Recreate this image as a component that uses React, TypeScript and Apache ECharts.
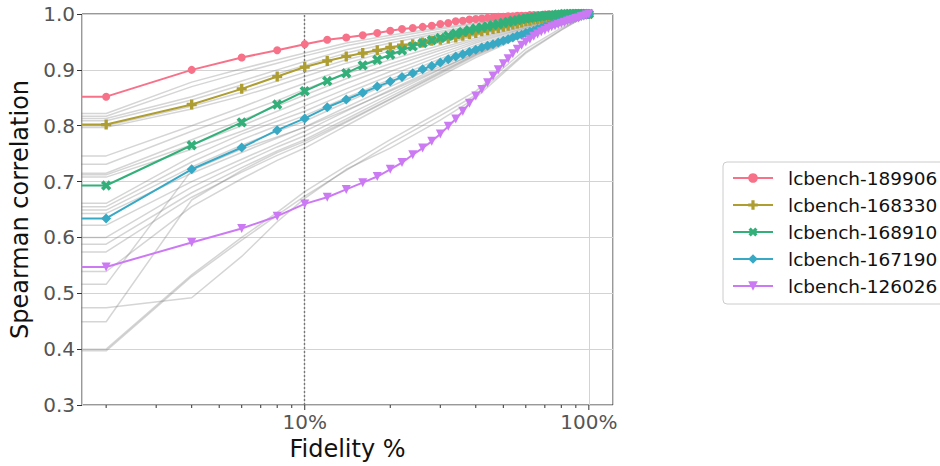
import React, { useEffect, useRef } from "react";
import * as echarts from "echarts";

// Fidelity (% of epochs) at which each correlation is computed.
// The 1% entry lies left of the visible range and carries the first value.
const FIDELITY = [
  1, 2, 4, 6, 8, 10, 12, 14, 16, 18, 20, 22, 24, 26, 28, 30, 32, 34, 36, 38, 40,
  42, 44, 46, 48, 50, 52, 54, 56, 58, 60, 62, 64, 66, 68, 70, 72, 74, 76, 78, 80,
  82, 84, 86, 88, 90, 92, 94, 96, 98, 100,
];

const LCB_189906 = [
  0.852,
  0.852, 0.9, 0.922, 0.935, 0.946, 0.954, 0.958, 0.962, 0.966, 0.97,
  0.973, 0.975, 0.977, 0.979, 0.982, 0.984, 0.987, 0.988, 0.99, 0.991,
  0.992, 0.993, 0.994, 0.995, 0.995, 0.996, 0.996, 0.997, 0.997, 0.997,
  0.998, 0.998, 0.998, 0.998, 0.999, 0.999, 0.999, 0.999, 0.999, 0.999,
  0.999, 1.0, 1.0, 1.0, 1.0, 1.0, 1.0, 1.0, 1.0, 1.0,
];
const LCB_168330 = [
  0.802,
  0.802, 0.838, 0.866, 0.888, 0.905, 0.916, 0.924, 0.93, 0.935, 0.94,
  0.944, 0.946, 0.949, 0.952, 0.954, 0.956, 0.958, 0.961, 0.964, 0.966,
  0.969, 0.971, 0.973, 0.975, 0.977, 0.979, 0.981, 0.983, 0.985, 0.987,
  0.988, 0.99, 0.991, 0.992, 0.993, 0.994, 0.995, 0.996, 0.997, 0.997,
  0.998, 0.998, 0.999, 0.999, 1.0, 1.0, 1.0, 1.0, 1.0, 1.0,
];
const LCB_168910 = [
  0.693,
  0.693, 0.765, 0.806, 0.838, 0.862, 0.88, 0.894, 0.908, 0.918, 0.927,
  0.935, 0.942, 0.948, 0.953, 0.957, 0.961, 0.965, 0.968, 0.971, 0.974,
  0.976, 0.978, 0.98, 0.982, 0.984, 0.986, 0.988, 0.989, 0.991, 0.992,
  0.993, 0.994, 0.995, 0.996, 0.997, 0.997, 0.998, 0.998, 0.999, 0.999,
  1.0, 1.0, 1.0, 1.0, 1.0, 1.0, 1.0, 1.0, 1.0, 1.0,
];
const LCB_167190 = [
  0.634,
  0.634, 0.722, 0.761, 0.792, 0.813, 0.833, 0.847, 0.859, 0.87, 0.879,
  0.887, 0.894, 0.901, 0.907, 0.913, 0.919, 0.924, 0.928, 0.932, 0.936,
  0.94, 0.943, 0.946, 0.949, 0.952, 0.955, 0.958, 0.961, 0.963, 0.966,
  0.968, 0.97, 0.973, 0.975, 0.977, 0.979, 0.981, 0.983, 0.985, 0.987,
  0.988, 0.99, 0.991, 0.993, 0.994, 0.995, 0.997, 0.998, 0.999, 1.0,
];
const LCB_126026 = [
  0.547,
  0.547, 0.591, 0.616, 0.638, 0.66, 0.672, 0.686, 0.698, 0.709, 0.722,
  0.734, 0.748, 0.76, 0.772, 0.785, 0.799, 0.812, 0.826, 0.84, 0.853,
  0.865, 0.877, 0.889, 0.9, 0.911, 0.92, 0.929, 0.937, 0.944, 0.95,
  0.955, 0.96, 0.964, 0.968, 0.971, 0.974, 0.977, 0.979, 0.981, 0.983,
  0.985, 0.987, 0.989, 0.99, 0.992, 0.993, 0.995, 0.996, 0.998, 1.0,
];

const HIGHLIGHT_NAMES = [
  "lcbench-189906",
  "lcbench-168330",
  "lcbench-168910",
  "lcbench-167190",
  "lcbench-126026",
];
const HIGHLIGHT_VALUES = [LCB_189906, LCB_168330, LCB_168910, LCB_167190, LCB_126026];

// Background (other tasks) read at a subset of fidelities
const GREY_FIDELITY = [1, 2, 4, 6, 8, 10, 14, 20, 30, 40, 60, 80, 100];
const GREY_LINES = [
  [0.822, 0.822, 0.878, 0.902, 0.918, 0.93, 0.948, 0.962, 0.976, 0.984, 0.993, 0.998, 1.0],
  [0.817, 0.817, 0.87, 0.895, 0.912, 0.925, 0.943, 0.958, 0.973, 0.982, 0.992, 0.997, 1.0],
  [0.813, 0.813, 0.852, 0.88, 0.9, 0.915, 0.936, 0.953, 0.969, 0.979, 0.99, 0.996, 1.0],
  [0.809, 0.809, 0.846, 0.873, 0.893, 0.908, 0.93, 0.948, 0.966, 0.977, 0.989, 0.996, 1.0],
  [0.8, 0.8, 0.835, 0.86, 0.88, 0.895, 0.918, 0.938, 0.958, 0.971, 0.986, 0.995, 1.0],
  [0.797, 0.797, 0.83, 0.853, 0.872, 0.888, 0.912, 0.934, 0.955, 0.969, 0.985, 0.994, 1.0],
  [0.746, 0.746, 0.8, 0.833, 0.858, 0.876, 0.902, 0.926, 0.95, 0.965, 0.983, 0.993, 1.0],
  [0.731, 0.731, 0.79, 0.822, 0.845, 0.865, 0.893, 0.918, 0.944, 0.961, 0.981, 0.992, 1.0],
  [0.715, 0.715, 0.775, 0.81, 0.835, 0.855, 0.884, 0.911, 0.939, 0.957, 0.979, 0.991, 1.0],
  [0.712, 0.712, 0.766, 0.8, 0.826, 0.846, 0.876, 0.905, 0.935, 0.954, 0.978, 0.991, 1.0],
  [0.708, 0.708, 0.758, 0.79, 0.815, 0.835, 0.866, 0.897, 0.93, 0.951, 0.976, 0.99, 1.0],
  [0.661, 0.661, 0.745, 0.785, 0.808, 0.826, 0.858, 0.89, 0.925, 0.948, 0.975, 0.99, 1.0],
  [0.655, 0.655, 0.735, 0.775, 0.8, 0.818, 0.85, 0.883, 0.92, 0.944, 0.973, 0.989, 1.0],
  [0.649, 0.649, 0.726, 0.765, 0.79, 0.808, 0.842, 0.877, 0.915, 0.94, 0.971, 0.988, 1.0],
  [0.643, 0.643, 0.715, 0.752, 0.778, 0.798, 0.833, 0.87, 0.91, 0.937, 0.97, 0.988, 1.0],
  [0.622, 0.622, 0.7, 0.74, 0.768, 0.79, 0.826, 0.864, 0.906, 0.934, 0.968, 0.987, 1.0],
  [0.6, 0.6, 0.69, 0.733, 0.762, 0.782, 0.818, 0.857, 0.901, 0.931, 0.967, 0.987, 1.0],
  [0.588, 0.588, 0.68, 0.725, 0.755, 0.775, 0.812, 0.852, 0.897, 0.928, 0.966, 0.986, 1.0],
  [0.574, 0.574, 0.672, 0.717, 0.747, 0.768, 0.806, 0.847, 0.893, 0.925, 0.964, 0.985, 1.0],
  [0.539, 0.539, 0.655, 0.705, 0.738, 0.76, 0.8, 0.842, 0.889, 0.922, 0.963, 0.985, 1.0],
  [0.516, 0.516, 0.72, 0.758, 0.78, 0.797, 0.828, 0.862, 0.902, 0.93, 0.966, 0.986, 1.0],
  [0.474, 0.474, 0.492, 0.566, 0.628, 0.67, 0.722, 0.76, 0.81, 0.85, 0.93, 0.971, 1.0],
  [0.449, 0.449, 0.667, 0.72, 0.752, 0.772, 0.808, 0.848, 0.895, 0.927, 0.965, 0.986, 1.0],
  [0.4, 0.4, 0.533, 0.6, 0.645, 0.682, 0.728, 0.775, 0.825, 0.862, 0.937, 0.975, 1.0],
  [0.397, 0.397, 0.53, 0.595, 0.64, 0.674, 0.72, 0.768, 0.818, 0.855, 0.932, 0.972, 1.0],
];

const MAJOR_X_TICKS = [10, 100];
const MINOR_X_TICKS = [2, 3, 4, 5, 6, 7, 8, 9, 20, 30, 40, 50, 60, 70, 80, 90];
const REFERENCE_FIDELITY = 10;

const COLORS = ["#f77189", "#ae9d31", "#33b07a", "#38a9c5", "#cc7af4"];
const PLUS = "path://M-1,-3L1,-3L1,-1L3,-1L3,1L1,1L1,3L-1,3L-1,1L-3,1L-3,-1L-1,-1Z";
const SYMBOLS = ["circle", PLUS, PLUS, "diamond", "triangle"];
const SYMBOL_SIZES = [8, 10, 11, 10, 9];
const SYMBOL_ROTATE = [0, 0, 45, 0, 180];

const FONT = "DejaVu Sans";

export default function App() {
  const ref = useRef<HTMLDivElement>(null);

  useEffect(() => {
    if (!ref.current) return;
    const chart = echarts.init(ref.current, undefined, { renderer: "svg" });

    const isDecade = (v: number) => {
      const l = Math.log10(v);
      return Math.abs(l - Math.round(l)) < 1e-6;
    };

    const tickSeries = (values: number[], len: number) => ({
      type: "custom",
      silent: true,
      clip: false,
      z: 20,
      data: values.map((v) => [v, 0.3]),
      encode: { x: 0, y: 1 },
      renderItem: (_p: any, api: any) => {
        const pt = api.coord([api.value(0), 0.3]);
        return {
          type: "line",
          shape: { x1: pt[0], y1: pt[1], x2: pt[0], y2: pt[1] + len },
          style: { stroke: "#333", lineWidth: 1 },
        };
      },
    });

    const greySeries = GREY_LINES.map((vals, i) => ({
      type: "line",
      name: "grey-" + i,
      data: GREY_FIDELITY.map((f, j) => [f, vals[j]]),
      symbol: "none",
      showSymbol: false,
      silent: true,
      clip: true,
      lineStyle: { color: "rgba(128,128,128,0.33)", width: 1.5 },
      z: 2,
      ...(i === 0
        ? {
            markLine: {
              silent: true,
              symbol: "none",
              label: { show: false },
              lineStyle: { type: [2, 2], color: "#777", width: 1.4 },
              data: [{ xAxis: REFERENCE_FIDELITY }],
            },
          }
        : {}),
    }));

    const highlightSeries = HIGHLIGHT_NAMES.map((name, i) => ({
      type: "line",
      name,
      data: FIDELITY.map((f, j) => [f, HIGHLIGHT_VALUES[i][j]]),
      symbol: SYMBOLS[i],
      symbolSize: SYMBOL_SIZES[i],
      symbolRotate: SYMBOL_ROTATE[i],
      showSymbol: true,
      clip: true,
      color: COLORS[i],
      itemStyle: { color: COLORS[i] },
      lineStyle: { color: COLORS[i], width: 2 },
      z: 5,
    }));

    chart.setOption({
      animation: false,
      textStyle: { fontFamily: FONT },
      grid: {
        left: 82,
        top: 14,
        width: 531,
        height: 391,
        show: true,
        borderColor: "#333",
        borderWidth: 1,
        backgroundColor: "transparent",
      },
      legend: {
        data: HIGHLIGHT_NAMES,
        orient: "vertical",
        left: 723,
        top: 162,
        padding: [5, 12, 7, 9],
        itemGap: 5,
        itemWidth: 40,
        itemHeight: 12,
        selectedMode: false,
        borderColor: "#cccccc",
        borderWidth: 1,
        borderRadius: 4,
        backgroundColor: "#fff",
        textStyle: {
          fontFamily: FONT,
          fontSize: 18.5,
          color: "#111",
          lineHeight: 22,
          padding: [0, 0, 0, 10],
        },
      },
      xAxis: {
        type: "log",
        logBase: 10,
        min: 1.6444,
        max: 121.63,
        name: "Fidelity %",
        nameLocation: "middle",
        nameGap: 28,
        nameTextStyle: { fontFamily: FONT, fontSize: 24, color: "#111" },
        axisLine: { show: false },
        axisTick: { show: false },
        axisLabel: {
          margin: 7,
          fontFamily: FONT,
          fontSize: 20,
          color: "#555",
          formatter: (v: number) => (isDecade(v) ? Math.round(v) + "%" : ""),
        },
        splitLine: { show: true, lineStyle: { color: "#d3d3d3", width: 1 } },
        minorTick: { show: false },
      },
      yAxis: {
        type: "value",
        min: 0.3,
        max: 1.0,
        interval: 0.1,
        name: "Spearman correlation",
        nameLocation: "middle",
        nameGap: 40,
        nameTextStyle: { fontFamily: FONT, fontSize: 24, color: "#111" },
        axisLine: { show: false },
        axisTick: { show: true, length: 5, lineStyle: { color: "#333" } },
        axisLabel: {
          margin: 7,
          fontFamily: FONT,
          fontSize: 20,
          color: "#555",
          formatter: (v: number) => v.toFixed(1),
        },
        splitLine: { show: true, lineStyle: { color: "#d3d3d3", width: 1 } },
      },
      series: [
        ...greySeries,
        ...highlightSeries,
        tickSeries(MAJOR_X_TICKS, 5),
        tickSeries(MINOR_X_TICKS, 3),
      ],
    });

    return () => chart.dispose();
  }, []);

  return (
    <div
      ref={ref}
      style={{ position: "absolute", left: 0, top: 0, width: 940, height: 466 }}
    />
  );
}
